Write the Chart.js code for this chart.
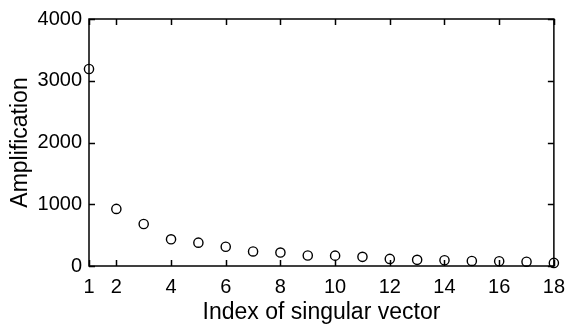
<!DOCTYPE html>
<html>
<head>
<meta charset="utf-8">
<script src="https://cdn.jsdelivr.net/npm/chart.js@4"></script>
<style>
  html, body { margin: 0; padding: 0; background: #fff; }
  #wrap { width: 574px; height: 326px; }
</style>
</head>
<body>
<div id="wrap"><canvas id="ampChart"></canvas></div>
<script>
// índice del vector singular y amplificación
const indices = [1, 2, 3, 4, 5, 6, 7, 8, 9, 10, 11, 12, 13, 14, 15, 16, 17, 18];
const amplification = [3190, 925, 680, 432, 378, 312, 236, 218, 170, 168, 148, 115, 100, 93, 82, 77, 70, 50];
const xTicks = [1, 2, 4, 6, 8, 10, 12, 14, 16, 18];
const yTicks = [0, 1000, 2000, 3000, 4000];

const FONT = '"Liberation Sans", Arial, Helvetica, sans-serif';

// caja y marcas hacia dentro en los cuatro lados
const boxPlugin = {
    id: 'boxTicks',
    beforeDatasetsDraw(chart) {
        const { ctx, chartArea: a, scales: { x, y } } = chart;
        const len = 6;
        ctx.save();
        ctx.strokeStyle = '#000';
        ctx.lineWidth = 1.5;
        ctx.strokeRect(a.left, a.top, a.right - a.left, a.bottom - a.top);
        ctx.beginPath();
        xTicks.forEach(v => {
            const px = Math.round(x.getPixelForValue(v)) + 0.5;
            ctx.moveTo(px, a.bottom); ctx.lineTo(px, a.bottom - len);
            ctx.moveTo(px, a.top); ctx.lineTo(px, a.top + len);
        });
        yTicks.forEach(v => {
            const py = Math.round(y.getPixelForValue(v)) + 0.5;
            ctx.moveTo(a.left, py); ctx.lineTo(a.left + len, py);
            ctx.moveTo(a.right, py); ctx.lineTo(a.right - len, py);
        });
        ctx.stroke();
        ctx.restore();
    }
};

new Chart(document.getElementById('ampChart'), {
    type: 'scatter',
    data: {
        datasets: [{
            data: indices.map((v, i) => ({ x: v, y: amplification[i] })),
            pointStyle: 'circle',
            pointRadius: 4.6,
            pointBorderWidth: 1.4,
            pointBorderColor: '#000',
            pointBackgroundColor: 'rgba(0,0,0,0)',
            clip: false
        }]
    },
    options: {
        responsive: true,
        maintainAspectRatio: false,
        animation: false,
        layout: { padding: { top: 16, right: 11, left: 0, bottom: 0 } },
        plugins: { legend: { display: false }, tooltip: { enabled: false } },
        scales: {
            x: {
                type: 'linear',
                min: 1, max: 18,
                afterBuildTicks: s => { s.ticks = xTicks.map(v => ({ value: v })); },
                afterFit: s => { s.height = 60; },
                grid: { display: false, drawTicks: false },
                border: { display: false },
                ticks: { color: '#000', padding: 9, font: { family: FONT, size: 20 }, callback: v => String(v) },
                title: {
                    display: true, text: 'Index of singular vector', color: '#000',
                    font: { family: FONT, size: 23 }, padding: { top: 0, bottom: 0 }
                }
            },
            y: {
                min: 0, max: 4000,
                afterBuildTicks: s => { s.ticks = yTicks.map(v => ({ value: v })); },
                afterFit: s => { s.width = 89; },
                grid: { display: false, drawTicks: false },
                border: { display: false },
                ticks: { color: '#000', padding: 7, font: { family: FONT, size: 20 }, callback: v => String(v) },
                title: {
                    display: true, text: 'Amplification', color: '#000',
                    font: { family: FONT, size: 23 }, padding: { top: 7, bottom: 0 }
                }
            }
        }
    },
    plugins: [boxPlugin]
});
</script>
</body>
</html>
